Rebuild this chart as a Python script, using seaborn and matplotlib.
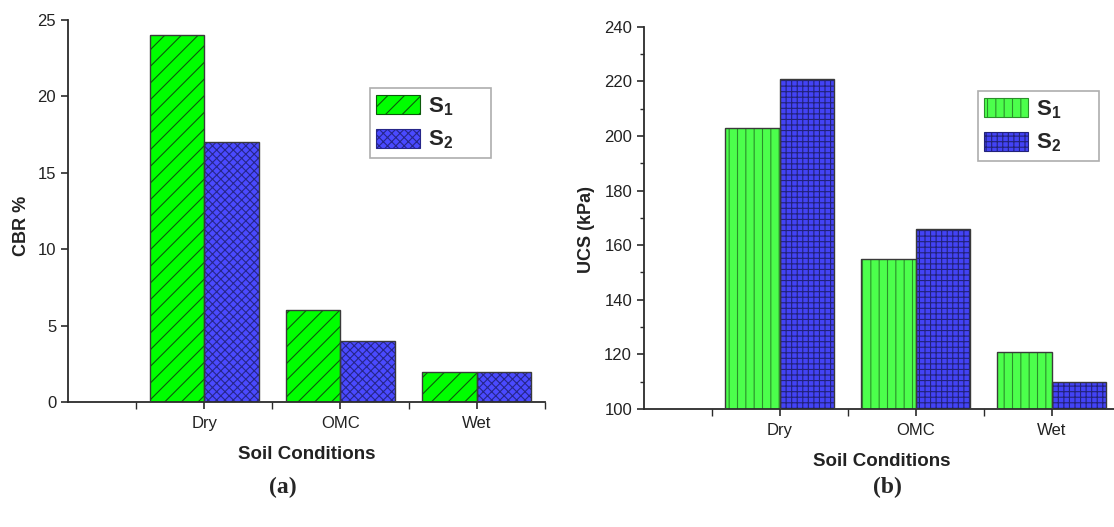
import matplotlib
matplotlib.use("Agg")
import matplotlib.pyplot as plt
import numpy as np
import pandas as pd
import seaborn as sns
from matplotlib.patches import Patch, Rectangle
from matplotlib.ticker import MultipleLocator, FixedLocator

# ---- data -------------------------------------------------------------
conditions = ["Dry", "OMC", "Wet"]
samples = ["S1", "S2"]
sample_labels = [r"$\mathbf{S_1}$", r"$\mathbf{S_2}$"]

cbr_s1 = [24, 6, 2]        # CBR %
cbr_s2 = [17, 4, 2]
ucs_s1 = [203, 155, 121]   # UCS (kPa)
ucs_s2 = [221, 166, 110]

# ---- style ------------------------------------------------------------
sns.set_style("ticks")
plt.rcParams["font.family"] = ["Liberation Sans", "DejaVu Sans"]
plt.rcParams["mathtext.fontset"] = "custom"
plt.rcParams["mathtext.rm"] = "Liberation Sans"
plt.rcParams["mathtext.bf"] = "Liberation Sans:bold"
plt.rcParams["hatch.linewidth"] = 0.8

AXIS_COL = "#2b2b2b"
TEXT_COL = "#222222"
OUTLINE = "#3a3a3a"


def long_frame(s1, s2):
    return pd.DataFrame({
        "condition": conditions * 2,
        "sample": [samples[0]] * 3 + [samples[1]] * 3,
        "value": list(s1) + list(s2),
    })


def draw_panel(ax, df, faces, hatches, hatch_cols, ylim, ymajor, yminor,
               ylabel, ylabel_xy, legend_xy):
    sns.barplot(data=df, x="condition", y="value", hue="sample",
                hue_order=samples, order=conditions,
                palette=dict(zip(samples, faces)), saturation=1,
                width=0.8, edgecolor=OUTLINE, linewidth=1.0,
                legend=False, ax=ax, zorder=2)

    # hatch colour follows the edge colour, so hatch with the dark tint
    # and redraw a neutral outline on top of each bar
    for cont, hatch, hcol in zip(ax.containers, hatches, hatch_cols):
        for bar in cont:
            bar.set_hatch(hatch)
            bar.set_edgecolor(hcol)
            bar.set_linewidth(0)
            ax.add_patch(Rectangle(bar.get_xy(), bar.get_width(),
                                   bar.get_height(), fill=False,
                                   edgecolor=OUTLINE, linewidth=1.0,
                                   zorder=3))

    ax.set_xlim(-1, 2.5)
    ax.set_ylim(*ylim)
    ax.yaxis.set_major_locator(MultipleLocator(ymajor))
    if yminor:
        ax.yaxis.set_minor_locator(MultipleLocator(yminor))
    ax.xaxis.set_minor_locator(FixedLocator([-0.5, 0.5, 1.5, 2.5]))

    sns.despine(ax=ax)
    for side in ("left", "bottom"):
        ax.spines[side].set_color(AXIS_COL)
        ax.spines[side].set_linewidth(1.3)
    ax.tick_params(which="major", direction="out", length=5, width=1.2,
                   color=AXIS_COL, labelsize=12, labelcolor=TEXT_COL)
    ax.tick_params(which="minor", direction="out", length=3, width=1.0,
                   color=AXIS_COL)
    ax.tick_params(axis="x", which="both", length=5)
    ax.tick_params(axis="x", which="major", pad=5)

    ax.set_xlabel("Soil Conditions", fontsize=13.5, fontweight="bold",
                  color=TEXT_COL, labelpad=11)
    ax.set_ylabel(ylabel, fontsize=13, fontweight="bold", color=TEXT_COL)
    ax.yaxis.set_label_coords(*ylabel_xy)

    handles = [Patch(facecolor=f, edgecolor=h, hatch=ht, linewidth=0.8)
               for f, h, ht in zip(faces, hatch_cols, hatches)]
    labels = [lab + "      " for lab in sample_labels]
    leg = ax.legend(handles, labels, loc="upper left",
                    bbox_to_anchor=legend_xy, borderaxespad=0,
                    fontsize=16, frameon=True, fancybox=False,
                    edgecolor="#9a9a9a", handlelength=1.95, handleheight=0.95,
                    labelspacing=0.5, handletextpad=0.35, borderpad=0.3)
    leg.get_frame().set_linewidth(1.2)


fig = plt.figure(figsize=(11.14, 5.27), dpi=100)
ax_a = fig.add_axes([0.061, 0.237, 0.428, 0.725])
ax_b = fig.add_axes([0.578, 0.224, 0.427, 0.725])

draw_panel(ax_a, long_frame(cbr_s1, cbr_s2),
           faces=["#00ff00", "#4a4aff"],
           hatches=["//", "xxxx"],
           hatch_cols=["#0b5a0b", "#26268a"],
           ylim=(0, 25), ymajor=5, yminor=None,
           ylabel="CBR %", ylabel_xy=(-0.080, 0.46),
           legend_xy=(0.633, 0.822))

draw_panel(ax_b, long_frame(ucs_s1, ucs_s2),
           faces=["#4cff4c", "#4343f5"],
           hatches=["||", "+++"],
           hatch_cols=["#2a902a", "#22227a"],
           ylim=(100, 240), ymajor=20, yminor=10,
           ylabel="UCS (kPa)", ylabel_xy=(-0.103, 0.47),
           legend_xy=(0.702, 0.832))

fig.text(283 / 1114, 1 - 487 / 527, "(a)", ha="center", va="center",
         fontsize=17, fontweight="bold", family="Liberation Serif")
fig.text(887 / 1114, 1 - 487 / 527, "(b)", ha="center", va="center",
         fontsize=17, fontweight="bold", family="Liberation Serif")

fig.savefig("out.png", dpi=100)
